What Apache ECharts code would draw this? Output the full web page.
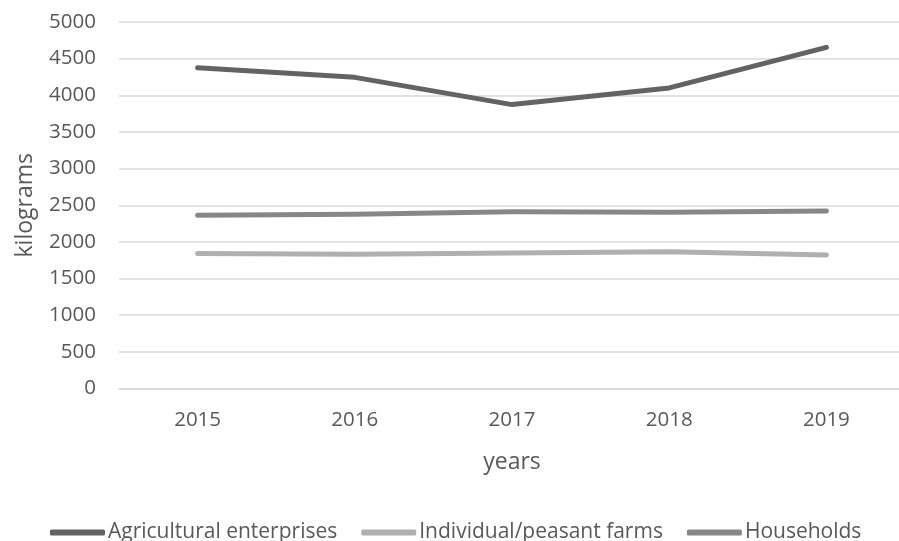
<!DOCTYPE html>
<html>
<head>
<meta charset="utf-8">
<script src="https://cdn.jsdelivr.net/npm/echarts@6/dist/echarts.min.js"></script>
<style>
  html, body { margin: 0; padding: 0; background: #ffffff; }
  #chart { width: 899px; height: 541px; }
</style>
</head>
<body>
<div id="chart"></div>
<script>
// Years on the category axis
const years = ['2015', '2016', '2017', '2018', '2019'];

// Values per producer type, kilograms
const agriculturalEnterprises = [4377, 4245, 3873, 4101, 4654];
const individualPeasantFarms = [1843, 1830, 1850, 1866, 1822];
const households = [2362, 2378, 2410, 2405, 2420];

const seriesNames = ['Agricultural enterprises', 'Individual/peasant farms', 'Households'];
const seriesColors = ['#636363', '#b0b0b0', '#878787'];

const textColor = '#595959';
const fontFamily = '"Open Sans", sans-serif';
const tickFontSize = 20.5;
const legendFontSize = 21;
const nameFontSize = 23;

const chart = echarts.init(document.getElementById('chart'), null, { renderer: 'canvas' });

function lineSeries(name, data, color) {
  return {
    name: name,
    type: 'line',
    data: data,
    symbol: 'none',
    smooth: false,
    lineStyle: { color: color, width: 5, cap: 'round', join: 'round' },
    itemStyle: { color: color }
  };
}

chart.setOption({
  animation: false,
  backgroundColor: '#ffffff',
  textStyle: { fontFamily: fontFamily, color: textColor },
  grid: {
    left: 119, top: 22, width: 786, height: 366.5,
    containLabel: false,
    outerBoundsMode: 'none'
  },
  legend: {
    data: seriesNames,
    left: 45,
    top: 517,
    icon: 'roundRect',
    itemWidth: 55,
    itemHeight: 6,
    itemGap: 24,
    textStyle: { fontFamily: fontFamily, fontSize: legendFontSize, color: textColor, padding: [0, 0, 0, -2] }
  },
  xAxis: {
    type: 'category',
    data: years,
    boundaryGap: true,
    name: 'years',
    nameLocation: 'middle',
    nameGap: 62,
    nameTextStyle: { fontFamily: fontFamily, fontSize: nameFontSize, color: textColor },
    axisLine: { show: true, lineStyle: { color: '#d9d9d9', width: 1.5 } },
    axisTick: { show: false },
    axisLabel: { fontFamily: fontFamily, fontSize: tickFontSize, color: textColor, margin: 21 },
    splitLine: { show: false }
  },
  yAxis: {
    type: 'value',
    min: 0,
    max: 5000,
    interval: 500,
    name: 'kilograms',
    nameLocation: 'middle',
    nameGap: 82,
    nameRotate: 90,
    nameTextStyle: { fontFamily: fontFamily, fontSize: nameFontSize, color: textColor },
    axisLine: { show: false },
    axisTick: { show: false },
    axisLabel: {
      fontFamily: fontFamily, fontSize: tickFontSize, color: textColor, margin: 23,
      formatter: function (v) { return String(v); }
    },
    splitLine: { show: true, lineStyle: { color: '#d9d9d9', width: 1.5 } }
  },
  series: [
    lineSeries(seriesNames[0], agriculturalEnterprises, seriesColors[0]),
    lineSeries(seriesNames[1], individualPeasantFarms, seriesColors[1]),
    lineSeries(seriesNames[2], households, seriesColors[2])
  ]
});
</script>
</body>
</html>
